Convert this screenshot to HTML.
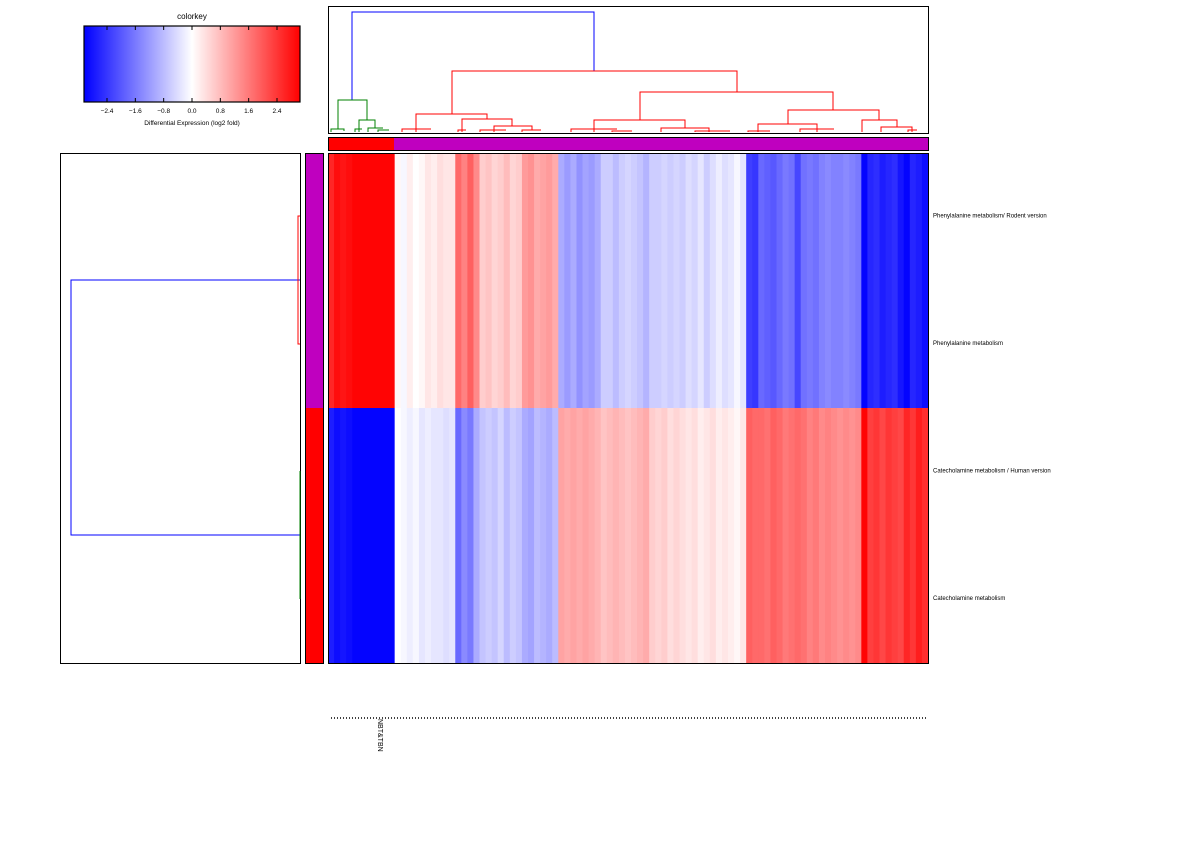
<!DOCTYPE html>
<html><head><meta charset="utf-8"><style>
body{margin:0;background:#fff;font-family:"Liberation Sans",sans-serif}
svg{display:block}
text{font-family:"Liberation Sans",sans-serif}
</style></head><body>
<svg id="chart" width="1200" height="850" viewBox="0 0 1200 850" xmlns="http://www.w3.org/2000/svg">
<defs>
<linearGradient id="bwr" x1="0" x2="1" y1="0" y2="0">
<stop offset="0" stop-color="#0000ff"/><stop offset="0.5" stop-color="#ffffff"/><stop offset="1" stop-color="#ff0000"/>
</linearGradient>
</defs>
<g>
<text x="192" y="19" font-size="8" text-anchor="middle">colorkey</text>
<rect x="84" y="26" width="216" height="76" fill="url(#bwr)" stroke="#000" stroke-width="1.2"/>
<g id="ckticks"></g>
<text x="192" y="125" font-size="6.5" text-anchor="middle">Differential Expression (log2 fold)</text>
</g>
<g>
<rect x="328.5" y="6.5" width="600" height="127" fill="none" stroke="#000" stroke-width="1"/>
<path d="M352 100V12H594V71" fill="none" stroke="#0000ff" stroke-width="1"/>
<path fill="none" stroke="#ff0000" stroke-width="1"
 d="M452 114V71H737V92 M640 120V92H833V110 M416 132V114H487V119 M462 132V119H512V126 M494 132V126H532V130 M402 132V129H431 M458 132V130H466 M480 132V130H506 M522 132V130H541
 M594 132V120H685V128 M661 132V128H709V132 M571 132V129H617 M612 132V131H632 M788 124V110H879V120 M758 132V124H817V132 M862 132V120H897V127 M881 132V127H912V132 M800 132V129H834 M908 132V130H917 M695 132V131H730 M748 132V131H770"/>
<path fill="none" stroke="#008000" stroke-width="1"
 d="M338 129V100H367V120 M359 132V120H375V128 M331 132V129H344V131 M355 132V129H362 M368 132V128H383 M378 132V130H389"/>
</g>
<g>
<rect x="328.5" y="137.5" width="600" height="13" fill="#bf00bf" stroke="#000"/>
<rect x="329" y="138" width="65" height="12" fill="#ff0000"/>
</g>
<g>
<rect x="60.5" y="153.5" width="240" height="510" fill="none" stroke="#000"/>
<path d="M300 280H71V535H300" fill="none" stroke="#0000ff"/>
<path d="M300 216H298V344H300" fill="none" stroke="#ff0000"/>
<path d="M300 471V599" fill="none" stroke="#008000"/>
</g>
<g>
<rect x="305.5" y="153.5" width="18" height="510" fill="#ff0000" stroke="#000"/>
<rect x="306" y="154" width="17" height="254" fill="#bf00bf"/>
</g>
<g id="heat"></g>
<rect x="328.5" y="153.5" width="600" height="510" fill="none" stroke="#000"/>
<g id="rowlabels" font-size="6"></g>
<line x1="331" y1="718" x2="928" y2="718" stroke="#000" stroke-width="1.5" stroke-dasharray="1,2"/>
<text transform="translate(378,719) rotate(90)" font-size="7">NBT&amp;TBN</text>
</svg>
<script>
const ckTicks = [-2.4,-1.6,-0.8,0.0,0.8,1.6,2.4];
const rowLabels = ["Phenylalanine metabolism/ Rodent version","Phenylalanine metabolism","Catecholamine metabolism / Human version","Catecholamine metabolism"];
const topRow = [2.6,2.9,2.8,2.9,3,3,3,3,3,3,3,
 0.1,-0.1,0.2,0.0,0.1,0.3,0.2,0.4,0.3,0.3,
 1.8,1.5,1.9,1.4,
 0.6,0.7,0.5,0.6,0.8,0.5,0.6,
 1.2,1.3,1.0,1.1,1.2,1.0,
 -1.0,-1.2,-1.0,-1.3,-1.1,-1.2,-1.0,-0.6,-0.6,-0.8,-0.6,-0.5,-0.6,-0.7,-0.9,
 -0.6,-0.6,-0.5,-0.6,-0.5,-0.6,-0.4,-0.5,-0.3,-0.6,-0.4,-0.2,-0.4,-0.3,-0.1,-0.3,
 -2.3,-2.4,-1.8,-1.9,-2.0,-1.8,-1.6,-1.7,-2.2,-1.7,-1.6,-1.7,-1.5,-1.4,-1.5,-1.5,-1.4,-1.5,-1.6,
 -3.0,-2.6,-2.5,-2.7,-2.6,-2.5,-2.8,-3.0,-2.6,-2.7,-2.9];
const bottomRow = [-2.7,-2.9,-2.8,-2.9,-3,-3,-3,-3,-3,-3,-3,
 0.0,-0.1,-0.2,-0.1,-0.3,-0.2,-0.3,-0.3,-0.4,-0.3,
 -1.8,-1.4,-1.6,-1.0,
 -0.7,-0.6,-0.7,-0.5,-0.8,-0.6,-0.7,
 -1.0,-1.1,-0.8,-0.9,-1.0,-0.8,
 1.1,1.0,1.1,1.0,1.1,1.0,0.9,0.7,0.8,0.9,0.8,0.7,0.8,0.9,1.0,
 0.6,0.5,0.6,0.4,0.5,0.4,0.3,0.4,0.2,0.3,0.4,0.2,0.3,0.2,0.1,0.3,
 1.9,1.8,1.8,1.7,1.9,1.8,1.6,1.7,1.8,1.7,1.5,1.6,1.4,1.5,1.4,1.3,1.4,1.3,1.4,
 3.0,2.3,2.4,2.2,2.4,2.3,2.2,2.6,2.4,2.7,2.5];
const rowSeries = [topRow, topRow, bottomRow, bottomRow];
const NS='http://www.w3.org/2000/svg';
const vmax=3.05;
function colorOf(v){
  let t=Math.max(-1,Math.min(1,v/vmax));
  let r,g,b;
  if(t<0){r=g=Math.round(255*(1+t));b=255;}else{r=255;g=b=Math.round(255*(1-t));}
  return `rgb(${r},${g},${b})`;
}
const ckX=v=>192+v*(85/2.4);
const ck=document.getElementById('ckticks');
ckTicks.forEach(v=>{
  const x=ckX(v);
  const l1=document.createElementNS(NS,'path');
  
  
  l1.setAttribute('d',`M${x} 26v4M${x} 102v-4`);l1.setAttribute('stroke','#000');ck.appendChild(l1);
  const t=document.createElementNS(NS,'text');
  
  
  t.setAttribute('x',x);t.setAttribute('y',113);t.setAttribute('font-size','6.5');t.setAttribute('text-anchor','middle');
  t.textContent=(v<0?'\u2212':'')+Math.abs(v).toFixed(1);ck.appendChild(t);
});
const heat=document.getElementById('heat');
const x0=328,w=600,y0=153,h=510;
const nCols=topRow.length, nRows=rowSeries.length;
const colX=i=>x0+i*w/nCols, rowY=j=>y0+j*h/nRows;
rowSeries.forEach((arr,j)=>{
  arr.forEach((v,i)=>{
    const r=document.createElementNS(NS,'rect');
    
    
    r.setAttribute('x',colX(i));r.setAttribute('y',rowY(j));
    r.setAttribute('width',w/nCols+0.5);r.setAttribute('height',h/nRows+0.5);
    r.setAttribute('fill',colorOf(v));heat.appendChild(r);
  });
});
const rl=document.getElementById('rowlabels');
rowLabels.forEach((s,j)=>{
  const t=document.createElementNS(NS,'text');
  
  
  t.setAttribute('x',933);t.setAttribute('y',rowY(j)+h/nRows/2+0.5);
  t.textContent=s;rl.appendChild(t);
});
</script>
</body></html>
